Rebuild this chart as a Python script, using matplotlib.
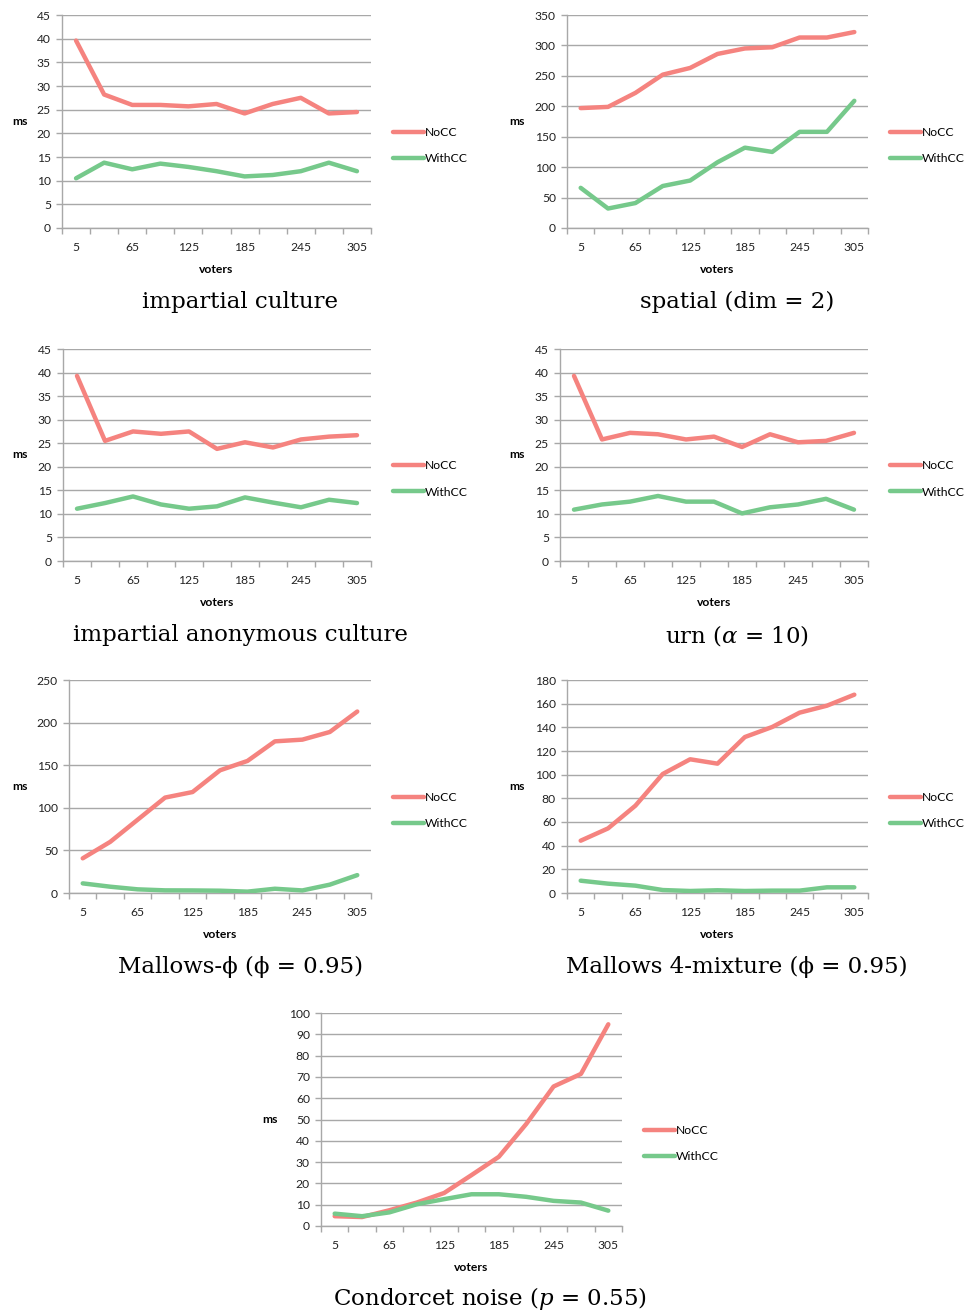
import matplotlib
matplotlib.use("Agg")
import matplotlib.pyplot as plt
import numpy as np

# x categories (number of voters)
voters = [5, 35, 65, 95, 125, 155, 185, 215, 245, 275, 305]
voter_labels = ["5", "", "65", "", "125", "", "185", "", "245", "", "305"]

# running times in ms
ic_nocc = [39.6, 28.2, 26.0, 26.0, 25.7, 26.2, 24.2, 26.2, 27.5, 24.2, 24.5]
ic_withcc = [10.5, 13.8, 12.4, 13.6, 12.9, 12.0, 10.9, 11.2, 12.0, 13.8, 12.0]

sp_nocc = [197, 199, 222, 252, 263, 286, 295, 297, 313, 313, 322]
sp_withcc = [66, 32, 41, 69, 78, 108, 132, 125, 158, 158, 209]

iac_nocc = [39.3, 25.5, 27.5, 27.0, 27.5, 23.8, 25.2, 24.1, 25.8, 26.4, 26.7]
iac_withcc = [11.1, 12.3, 13.7, 12.0, 11.1, 11.6, 13.5, 12.4, 11.4, 13.0, 12.3]

urn_nocc = [39.3, 25.8, 27.2, 26.9, 25.8, 26.4, 24.2, 26.9, 25.2, 25.5, 27.2]
urn_withcc = [10.9, 12.0, 12.6, 13.8, 12.6, 12.6, 10.1, 11.4, 12.0, 13.2, 10.9]

mal_nocc = [40.7, 60, 86, 112, 118.5, 144, 155, 178, 180, 189, 213]
mal_withcc = [11.3, 7.4, 4.3, 3.1, 3.0, 2.7, 1.6, 5.0, 3.0, 9.8, 21]

mix_nocc = [44.2, 54.6, 73.8, 100.6, 113, 109.3, 131.8, 140.3, 152.4, 158.3, 167.6]
mix_withcc = [10.4, 7.9, 6.2, 2.5, 1.7, 2.3, 1.7, 2.0, 2.0, 4.8, 4.8]

cn_nocc = [4.6, 4.2, 7.4, 11.0, 15.5, 23.9, 32.5, 47.9, 65.5, 71.4, 94.7]
cn_withcc = [5.8, 4.6, 6.4, 10.2, 12.6, 14.9, 14.9, 13.7, 11.8, 11.0, 7.2]

captions = [
    "impartial culture",
    "spatial (dim = 2)",
    "impartial anonymous culture",
    "urn ($\\alpha$ = 10)",
    "Mallows-ϕ (ϕ = 0.95)",
    "Mallows 4-mixture (ϕ = 0.95)",
    "Condorcet noise ($p$ = 0.55)",
]

W, H = 967, 1315
fig = plt.figure(figsize=(W / 100, H / 100), dpi=100)
plt.rcParams['mathtext.fontset'] = 'dejavuserif'

RED = "#F5837F"
GREEN = "#76C98B"
GRID = "#A8A8A8"
TICKFONT = "Lato"
FS = 8.7

# (left, top, right, bottom) of each plot area in pixels, y max, step, panel origin x, caption center x, caption y
panels = [
    ((62, 15, 371, 228), 45, 5, 0, 240, 302, ic_nocc, ic_withcc),
    ((567, 15, 868, 228), 350, 50, 497, 737, 302, sp_nocc, sp_withcc),
    ((63, 349, 371, 561), 45, 5, 0, 240, 635, iac_nocc, iac_withcc),
    ((560, 349, 868, 561), 45, 5, 497, 737, 635, urn_nocc, urn_withcc),
    ((69, 680, 371, 893), 250, 50, 0, 240, 967, mal_nocc, mal_withcc),
    ((567, 680, 868, 893), 180, 20, 497, 737, 967, mix_nocc, mix_withcc),
    ((321, 1013, 622, 1226), 100, 10, 250, 490, 1299, cn_nocc, cn_withcc),
]

for i, (box, ymax, step, ox, cx, cy, nocc, withcc) in enumerate(panels):
    l, t, r, b = box
    ax = fig.add_axes([l / W, 1 - b / H, (r - l) / W, (b - t) / H])
    idx = np.arange(len(voters))
    ax.plot(idx, nocc, color=RED, lw=3.2, solid_capstyle="round", label="NoCC", zorder=3)
    ax.plot(idx, withcc, color=GREEN, lw=3.2, solid_capstyle="round", label="WithCC", zorder=3)

    ax.set_xlim(-0.5, len(voters) - 0.5)
    ax.set_ylim(0, ymax)
    ax.set_yticks(np.arange(0, ymax + step / 2, step))
    ax.set_xticks(idx)
    ax.set_xticklabels(voter_labels)
    ax.set_xticks(np.arange(-0.5, len(voters), 1.0), minor=True)
    ax.tick_params(axis="x", which="major", length=0, pad=10, labelsize=FS, labelcolor="#222222")
    ax.tick_params(axis="x", which="minor", length=4, width=1, color=GRID, direction="out")
    ax.tick_params(axis="y", length=4, width=1, color=GRID, pad=4, labelsize=FS, labelcolor="#222222")
    for lab in ax.get_xticklabels() + ax.get_yticklabels():
        lab.set_fontfamily(TICKFONT)

    ax.grid(axis="y", color=GRID, lw=1)
    ax.set_axisbelow(True)
    for s in ("top", "right"):
        ax.spines[s].set_visible(False)
    for s in ("left", "bottom"):
        ax.spines[s].set_color(GRID)
        ax.spines[s].set_linewidth(1)

    ax.set_xlabel("voters", fontsize=FS, fontweight="bold", fontfamily=TICKFONT, labelpad=8)
    fig.text((ox + 20) / W, 1 - ((t + b) / 2) / H, "ms", fontsize=FS, fontweight="bold",
             fontfamily=TICKFONT, ha="center", va="center")

    ax.legend(loc="center left", bbox_to_anchor=((r + 22) / W, 1 - ((t + b) / 2 + 24) / H),
              bbox_transform=fig.transFigure, frameon=False,
              handlelength=2.6, handletextpad=0.0, labelspacing=1.25,
              borderpad=0, borderaxespad=0, prop={"family": TICKFONT, "size": FS})

    fig.text(cx / W, 1 - cy / H, captions[i], fontsize=16.5, ha="center", va="center",
             fontfamily=["DejaVu Serif"])

fig.savefig("out.png", dpi=100)
